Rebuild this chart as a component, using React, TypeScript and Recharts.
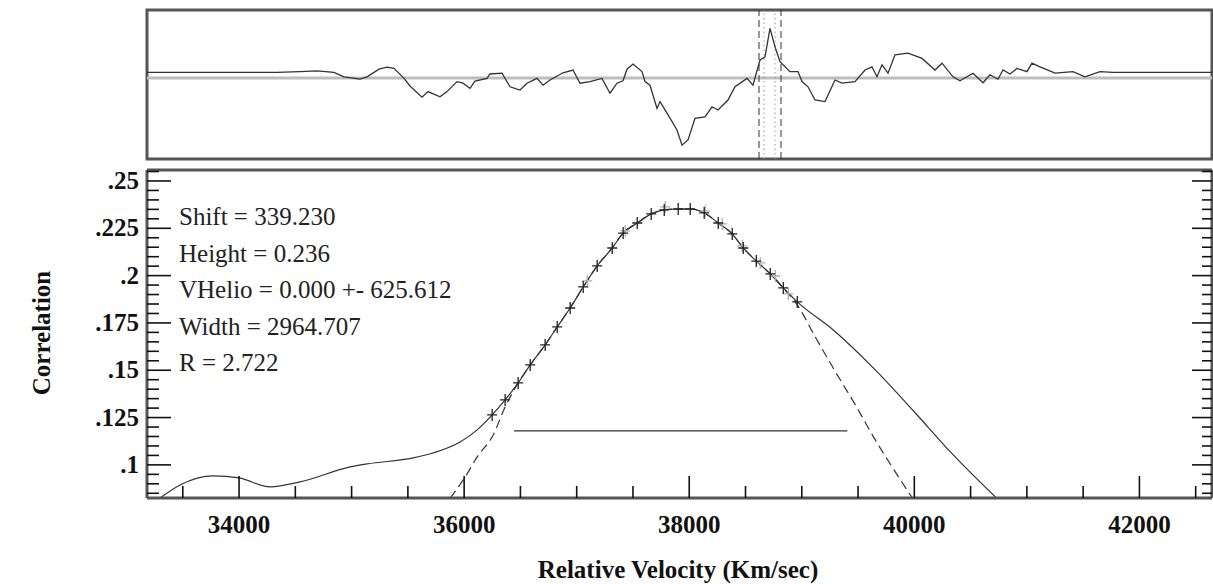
import React from "react";
import { ComposedChart, LineChart, Line, XAxis, YAxis, ReferenceLine, ReferenceArea } from "recharts";

const SERIF = "'Liberation Serif', 'Times New Roman', serif";
const INK = "#222";
const FRAME = "#555";

// ---- top panel: raw cross-correlation against lag ----
const lag = [
  0, 130, 153, 170, 187, 197, 213, 220, 232, 240, 247, 257, 263, 275, 281, 293, 300, 310, 316, 323,
  328, 340, 343, 355, 363, 373, 380, 390, 396, 403, 416, 426, 433, 443, 455, 463, 470, 476, 480, 486,
  495, 498, 503, 510, 513, 520, 530, 535, 541, 548, 558, 565, 571, 581, 588, 600, 606, 613, 618, 623,
  628, 633, 643, 651, 655, 661, 668, 678, 688, 695, 708, 718, 725, 730, 735, 741, 748, 761, 775, 788,
  795, 806, 813, 826, 836, 843, 851, 856, 863, 870, 880, 885, 893, 908, 926, 938, 953, 966, 1065,
];
const xcorr = [
  0.014, 0.014, 0.016, 0.018, 0.014, 0.003, -0.003, 0.003, 0.022, 0.027, 0.024, -0.001, -0.02, -0.048, -0.034, -0.047, -0.034, -0.009, -0.013, -0.026,
  -0.008, -0.001, 0.01, 0.012, -0.022, -0.03, -0.013, -0.001, -0.018, -0.005, 0.013, 0.02, -0.013, -0.009, -0.001, -0.038, -0.013, -0.007, 0.022, 0.035,
  0.016, -0.009, -0.018, -0.076, -0.059, -0.088, -0.13, -0.168, -0.155, -0.101, -0.097, -0.072, -0.08, -0.055, -0.022, -0.001, -0.018, 0.045, 0.053, 0.124,
  0.078, 0.041, 0.016, 0.016, -0.009, -0.022, -0.055, -0.059, -0.005, -0.013, -0.009, 0.02, 0.028, 0.003, 0.033, 0.012, 0.058, 0.062, 0.049, 0.02,
  0.037, 0.003, -0.007, 0.012, -0.012, 0.008, -0.003, 0.02, 0.01, 0.024, 0.016, 0.037, 0.028, 0.012, 0.016, 0.003, 0.016, 0.014, 0.014,
];
const lagDomain = [0, 1065];
const xcorrDomain = [-0.2025, 0.17];
const windowLags = [612, 634];
const peakLags = [617, 628];

// ---- bottom panel: correlation peak against relative velocity ----
const velocity = [
  33298, 33476, 33769, 34000, 34276, 34542, 34987, 35138, 35547, 35724, 35964, 36116,
  36249, 36364, 36480, 36587, 36720, 36827, 36942, 37058, 37182, 37316, 37413, 37538,
  37662, 37778, 37902, 38009, 38133, 38258, 38382, 38480, 38596, 38720, 38836, 38960,
  39280, 39653, 40009, 40329, 40729,
];
const correlation = [
  0.0825, 0.0894, 0.0942, 0.0931, 0.0884, 0.091, 0.0989, 0.1005, 0.1037, 0.1063, 0.1121, 0.1185,
  0.1264, 0.1343, 0.1433, 0.1528, 0.1634, 0.1729, 0.1829, 0.194, 0.2051, 0.2146, 0.2225, 0.2278,
  0.2326, 0.2347, 0.2352, 0.2352, 0.2331, 0.2278, 0.222, 0.2146, 0.2077, 0.2009, 0.1935, 0.1861,
  0.1713, 0.1502, 0.1274, 0.1063, 0.0825,
];
const fitVelocity = [
  35876, 36009, 36116, 36258, 36364, 36480, 36587, 36720, 36827, 36942, 37058, 37182, 37316, 37413,
  37538, 37662, 37778, 37902, 38009, 38133, 38258, 38382, 38480, 38596, 38720, 38836, 38960, 39120,
  39289, 39476, 39653, 39831, 39982,
];
const fitCorrelation = [
  0.0825, 0.0936, 0.1042, 0.1158, 0.1306, 0.1433, 0.1528, 0.1634, 0.1729, 0.1829, 0.194, 0.2051, 0.2146, 0.2225,
  0.2278, 0.2326, 0.2347, 0.2352, 0.2352, 0.2331, 0.2278, 0.222, 0.2146, 0.2077, 0.2009, 0.1935, 0.1845, 0.1676,
  0.1502, 0.1317, 0.1132, 0.0963, 0.0825,
];
const fittedFrom = 36249;
const fittedTo = 38960;
const greyVelocity = [37093, 37431, 37787, 38142, 38293, 38471, 38631, 38764, 38880];
const greyCorrelation = [0.1972, 0.2236, 0.2363, 0.2342, 0.2273, 0.2157, 0.2067, 0.1998, 0.1903];
const halfWidthVelocity = [36444, 39405];
const halfHeight = 0.118;

const velDomain = [33182, 42645];
const corrDomain = [0.0825, 0.2558];
const velTicks = [
  33500, 34000, 34500, 35000, 35500, 36000, 36500, 37000, 37500, 38000,
  38500, 39000, 39500, 40000, 40500, 41000, 41500, 42000, 42500,
];
const velMajor = [34000, 36000, 38000, 40000, 42000];
const corrMajor = [0.1, 0.125, 0.15, 0.175, 0.2, 0.225, 0.25];
const corrTicks: number[] = [];
for (let k = 85; k <= 255; k += 5) corrTicks.push(k / 1000);

const annotations = [
  "Shift = 339.230",
  "Height = 0.236",
  "VHelio = 0.000 +- 625.612",
  "Width = 2964.707",
  "R = 2.722",
];

const topData = lag.map((l, i) => ({ v: l, c: xcorr[i] }));
const curveData = velocity.map((v, i) => ({ v, c: correlation[i] }));
const fitData = fitVelocity.map((v, i) => ({ v, c: fitCorrelation[i] }));
const markData = curveData.filter((d) => d.v >= fittedFrom && d.v <= fittedTo);
const greyData = greyVelocity.map((v, i) => ({ v, c: greyCorrelation[i] }));
const halfData = halfWidthVelocity.map((v) => ({ v, c: halfHeight }));

const isMajorY = (v: number) => corrMajor.some((m) => Math.abs(m - v) < 1e-6);
const fmtCorr = (v: number) => String(+v.toFixed(3)).replace(/^0/, "");

const labelStyle = { fontFamily: SERIF, fontSize: 25, fontWeight: 700, fill: "#111" };

const BottomTick = (p: any) => {
  const major = velMajor.includes(p.payload.value);
  return (
    <g>
      <line x1={p.x} x2={p.x} y1={p.y} y2={p.y - (major ? 22 : 12)} stroke="#111" strokeWidth={1.6} />
      {major && (
        <text x={p.x} y={p.y + 35} textAnchor="middle" style={labelStyle}>
          {p.payload.value}
        </text>
      )}
    </g>
  );
};

const TopTick = (p: any) => {
  const major = velMajor.includes(p.payload.value);
  return <line x1={p.x} x2={p.x} y1={p.y} y2={p.y + (major ? 22 : 11)} stroke="#111" strokeWidth={1.6} />;
};

const LeftTick = (p: any) => {
  const major = isMajorY(p.payload.value);
  return (
    <g>
      <line x1={p.x} x2={p.x + (major ? 24 : 12)} y1={p.y} y2={p.y} stroke="#111" strokeWidth={1.6} />
      {major && (
        <text x={p.x - 8} y={p.y + 8} textAnchor="end" style={labelStyle}>
          {fmtCorr(p.payload.value)}
        </text>
      )}
    </g>
  );
};

const RightTick = (p: any) => {
  const major = isMajorY(p.payload.value);
  return <line x1={p.x} x2={p.x - (major ? 20 : 10)} y1={p.y} y2={p.y} stroke="#111" strokeWidth={1.6} />;
};

const plus = (color: string) => (p: any) =>
  (
    <path
      key={`${color}-${p.index}`}
      d={`M${p.cx - 5},${p.cy}H${p.cx + 5}M${p.cx},${p.cy - 6}V${p.cy + 6}`}
      stroke={color}
      strokeWidth={1.3}
      fill="none"
    />
  );

function TopPanel() {
  return (
    <LineChart width={1213} height={170} data={topData} margin={{ top: 10, right: 1, bottom: 11, left: 147 }}>
      <XAxis hide type="number" dataKey="v" domain={lagDomain} allowDataOverflow />
      <YAxis hide type="number" domain={xcorrDomain} allowDataOverflow />
      <ReferenceLine y={0} stroke="#bdbdbd" strokeWidth={3} />
      {windowLags.map((l) => (
        <ReferenceLine key={`w${l}`} x={l} stroke="#333" strokeDasharray="7 4" strokeWidth={1} />
      ))}
      {peakLags.map((l) => (
        <ReferenceLine key={`p${l}`} x={l} stroke="#999" strokeDasharray="1.5 3" strokeWidth={1} />
      ))}
      <Line type="linear" dataKey="c" stroke="#333" strokeWidth={1.3} dot={false} isAnimationActive={false} />
      <ReferenceArea
        x1={lagDomain[0]}
        x2={lagDomain[1]}
        y1={xcorrDomain[0]}
        y2={xcorrDomain[1]}
        fill="none"
        stroke={FRAME}
        strokeWidth={3}
        ifOverflow="visible"
      />
    </LineChart>
  );
}

function BottomPanel() {
  const axisLine = { stroke: FRAME, strokeWidth: 3 };
  return (
    <ComposedChart width={1213} height={584} margin={{ top: 169, right: 0, bottom: 26, left: 87 }}>
      <XAxis
        xAxisId="b"
        type="number"
        dataKey="v"
        domain={velDomain}
        allowDataOverflow
        ticks={velTicks}
        interval={0}
        height={60}
        tickSize={0}
        tickMargin={0}
        tickLine={false}
        axisLine={axisLine}
        tick={(p: any) => <BottomTick {...p} />}
      />
      <XAxis
        xAxisId="t"
        orientation="top"
        type="number"
        domain={velDomain}
        allowDataOverflow
        ticks={velTicks}
        interval={0}
        height={1}
        tickSize={0}
        tickMargin={0}
        tickLine={false}
        axisLine={axisLine}
        tick={(p: any) => <TopTick {...p} />}
      />
      <YAxis
        yAxisId="l"
        type="number"
        dataKey="c"
        domain={corrDomain}
        allowDataOverflow
        ticks={corrTicks}
        interval={0}
        width={60}
        tickSize={0}
        tickMargin={0}
        tickLine={false}
        axisLine={axisLine}
        tick={(p: any) => <LeftTick {...p} />}
      />
      <YAxis
        yAxisId="r"
        orientation="right"
        type="number"
        domain={corrDomain}
        allowDataOverflow
        ticks={corrTicks}
        interval={0}
        width={1}
        tickSize={0}
        tickMargin={0}
        tickLine={false}
        axisLine={axisLine}
        tick={(p: any) => <RightTick {...p} />}
      />
      <Line
        xAxisId="b"
        yAxisId="l"
        data={fitData}
        dataKey="c"
        type="monotone"
        stroke="#333"
        strokeWidth={1.2}
        strokeDasharray="9 5"
        dot={false}
        isAnimationActive={false}
      />
      <Line
        xAxisId="b"
        yAxisId="l"
        data={curveData}
        dataKey="c"
        type="monotone"
        stroke="#333"
        strokeWidth={1.2}
        dot={false}
        isAnimationActive={false}
      />
      <Line
        xAxisId="b"
        yAxisId="l"
        data={halfData}
        dataKey="c"
        type="linear"
        stroke="#333"
        strokeWidth={1.2}
        dot={false}
        isAnimationActive={false}
      />
      <Line
        xAxisId="b"
        yAxisId="l"
        data={greyData}
        dataKey="c"
        stroke="none"
        dot={plus("#b0b0b0")}
        isAnimationActive={false}
      />
      <Line
        xAxisId="b"
        yAxisId="l"
        data={markData}
        dataKey="c"
        stroke="none"
        dot={plus("#222")}
        isAnimationActive={false}
      />
      {annotations.map((t, i) => (
        <text key={t} x={179} y={225 + i * 36.5} style={{ fontFamily: SERIF, fontSize: 25, fill: INK }}>
          {t}
        </text>
      ))}
      <text x={678} y={578} textAnchor="middle" style={labelStyle}>
        Relative Velocity (Km/sec)
      </text>
      <text x={50} y={333} textAnchor="middle" transform="rotate(-90 50 333)" style={labelStyle}>
        Correlation
      </text>
    </ComposedChart>
  );
}

export default function App() {
  return (
    <div style={{ position: "absolute", left: 0, top: 0, width: 1213, height: 584, background: "#fff" }}>
      <div style={{ position: "absolute", left: 0, top: 0 }}>
        <BottomPanel />
      </div>
      <div style={{ position: "absolute", left: 0, top: 0 }}>
        <TopPanel />
      </div>
    </div>
  );
}
